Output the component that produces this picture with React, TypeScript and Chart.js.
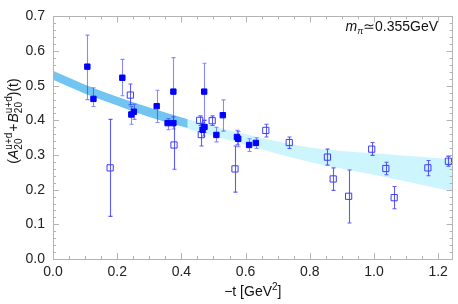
import React, { useEffect, useRef } from 'react';
import { Chart, registerables } from 'chart.js';
Chart.register(...registerables);

// ---- data ----
const X_MIN = 0;
const X_MAX = 1.245;
const Y_MIN = 0;
const Y_MAX = 0.7;

const filledX = [0.107, 0.126, 0.216, 0.244, 0.252, 0.323, 0.357, 0.375, 0.375, 0.466, 0.471, 0.472, 0.509, 0.529, 0.573, 0.577, 0.611, 0.632];
const filledY = [0.555, 0.462, 0.523, 0.417, 0.425, 0.441, 0.392, 0.483, 0.392, 0.373, 0.483, 0.381, 0.358, 0.415, 0.352, 0.347, 0.329, 0.335];
const filledLo = [0.460, 0.440, 0.471, 0.389, 0.403, 0.394, 0.373, 0.385, 0.375, 0.355, 0.400, 0.365, 0.338, 0.369, 0.330, 0.324, 0.310, 0.319];
const filledHi = [0.646, 0.494, 0.576, 0.440, 0.447, 0.487, 0.405, 0.581, 0.410, 0.395, 0.565, 0.400, 0.380, 0.459, 0.371, 0.368, 0.347, 0.350];

const openX = [0.178, 0.241, 0.377, 0.457, 0.462, 0.496, 0.567, 0.663, 0.736, 0.855, 0.873, 0.921, 0.993, 1.037, 1.063, 1.168, 1.232];
const openY = [0.263, 0.473, 0.329, 0.400, 0.359, 0.399, 0.260, 0.371, 0.336, 0.294, 0.231, 0.181, 0.317, 0.261, 0.177, 0.263, 0.282];
const openLo = [0.123, 0.445, 0.259, 0.385, 0.326, 0.385, 0.193, 0.352, 0.319, 0.271, 0.198, 0.104, 0.299, 0.243, 0.145, 0.240, 0.268];
const openHi = [0.403, 0.505, 0.399, 0.413, 0.390, 0.413, 0.326, 0.389, 0.352, 0.317, 0.263, 0.257, 0.336, 0.279, 0.209, 0.284, 0.296];

const darkBandX = [0, 0.1, 0.2, 0.3, 0.42];
const darkBandUpper = [0.543, 0.503, 0.468, 0.437, 0.403];
const darkBandLower = [0.517, 0.477, 0.443, 0.410, 0.378];

const lightBandX = [0.42, 0.6, 0.8, 1.0, 1.245];
const lightBandUpper = [0.403, 0.360, 0.322, 0.305, 0.288];
const lightBandLower = [0.375, 0.330, 0.280, 0.243, 0.195];

const xTickValues = [0, 0.2, 0.4, 0.6, 0.8, 1.0, 1.2];

const FONT = '"Liberation Sans", Arial, "DejaVu Sans", sans-serif';

const pts = (xs: number[], ys: number[]) => xs.map((x, i) => ({ x, y: ys[i] }));

const errorBarPlugin = {
  id: 'errorBars',
  beforeDatasetDraw(chart: any, args: any) {
    const ds = chart.data.datasets[args.index];
    if (!ds.errLo) return;
    const { ctx, chartArea, scales } = chart;
    const xs = scales.x, ys = scales.y;
    ctx.save();
    ctx.beginPath();
    ctx.rect(chartArea.left, chartArea.top, chartArea.right - chartArea.left, chartArea.bottom - chartArea.top);
    ctx.clip();
    ctx.strokeStyle = ds.errColor;
    ctx.lineWidth = 1.1;
    ds.data.forEach((p: any, i: number) => {
      const px = Math.round(xs.getPixelForValue(p.x)) + 0.5;
      const yl = ys.getPixelForValue(ds.errLo[i]);
      const yh = ys.getPixelForValue(ds.errHi[i]);
      ctx.beginPath();
      ctx.moveTo(px, yl);
      ctx.lineTo(px, yh);
      ctx.moveTo(px - 2, yl);
      ctx.lineTo(px + 2, yl);
      ctx.moveTo(px - 2, yh);
      ctx.lineTo(px + 2, yh);
      ctx.stroke();
    });
    ctx.restore();
  },
};

const framePlugin = {
  id: 'frame',
  afterDatasetsDraw(chart: any) {
    const { ctx, chartArea, scales } = chart;
    const { left, right, top, bottom } = chartArea;
    const xs = scales.x, ys = scales.y;
    ctx.save();
    ctx.strokeStyle = '#b4b4b4';
    ctx.lineWidth = 1;
    ctx.beginPath();
    // x ticks
    for (let k = 0; k <= 25; k++) {
      const v = k * 0.05;
      if (v > X_MAX + 1e-9) break;
      const major = k % 4 === 0;
      const len = major ? 6 : 3;
      const px = Math.round(xs.getPixelForValue(v)) + 0.5;
      ctx.moveTo(px, bottom);
      ctx.lineTo(px, bottom - len);
      ctx.moveTo(px, top);
      ctx.lineTo(px, top + len);
    }
    // y ticks
    for (let k = 0; k <= 35; k++) {
      const v = k * 0.02;
      const major = k % 5 === 0;
      const len = major ? 6 : 3;
      const py = Math.round(ys.getPixelForValue(v)) + 0.5;
      ctx.moveTo(left, py);
      ctx.lineTo(left + len, py);
      ctx.moveTo(right, py);
      ctx.lineTo(right - len, py);
    }
    ctx.stroke();
    ctx.strokeRect(Math.round(left) + 0.5, Math.round(top) + 0.5, Math.round(right - left) - 1, Math.round(bottom - top));
    ctx.restore();
  },
};

type Piece = { t?: string; font?: string; sup?: string; sub?: string; gap?: number };

const drawPieces = (ctx: CanvasRenderingContext2D, pieces: Piece[], x0: number, y0: number, small: string, supDy: number, subDy: number) => {
  let x = x0;
  for (const p of pieces) {
    if (p.gap) { x += p.gap; continue; }
    if (p.t !== undefined) {
      ctx.font = p.font!;
      ctx.fillText(p.t, x, y0);
      x += ctx.measureText(p.t).width;
    } else {
      ctx.font = small;
      let w = 0;
      if (p.sup) { ctx.fillText(p.sup, x, y0 + supDy); w = Math.max(w, ctx.measureText(p.sup).width); }
      if (p.sub) { ctx.fillText(p.sub, x, y0 + subDy); w = Math.max(w, ctx.measureText(p.sub).width); }
      x += w;
    }
  }
  return x - x0;
};

const measurePieces = (ctx: CanvasRenderingContext2D, pieces: Piece[], small: string) => {
  let x = 0;
  for (const p of pieces) {
    if (p.gap) { x += p.gap; continue; }
    if (p.t !== undefined) { ctx.font = p.font!; x += ctx.measureText(p.t).width; }
    else {
      ctx.font = small;
      x += Math.max(p.sup ? ctx.measureText(p.sup).width : 0, p.sub ? ctx.measureText(p.sub).width : 0);
    }
  }
  return x;
};

const textPlugin = {
  id: 'texts',
  afterDraw(chart: any) {
    const { ctx } = chart;
    const N = `14px ${FONT}`;
    const I = `italic 14px ${FONT}`;
    const S = `10px ${FONT}`;
    ctx.save();
    ctx.fillStyle = '#111';
    ctx.textBaseline = 'alphabetic';
    ctx.textAlign = 'left';

    // y axis title
    const yPieces: Piece[] = [
      { t: '(', font: N },
      { t: 'A', font: I },
      { sup: 'u+d', sub: '20' },
      { gap: 1 },
      { t: '+', font: N },
      { gap: 1 },
      { t: 'B', font: I },
      { sup: 'u+d', sub: '20' },
      { t: ')(t)', font: N },
    ];
    const wy = measurePieces(ctx, yPieces, S);
    ctx.save();
    ctx.translate(18, 121);
    ctx.rotate(-Math.PI / 2);
    drawPieces(ctx, yPieces, -wy / 2, 0, S, -6, 4);
    ctx.restore();

    // x axis title
    const xPieces: Piece[] = [
      { t: '\u2212t [GeV', font: N },
      { sup: '2' },
      { t: ']', font: N },
    ];
    const wx = measurePieces(ctx, xPieces, S);
    const ca = chart.chartArea;
    drawPieces(ctx, xPieces, (ca.left + ca.right) / 2 - wx / 2, 296, S, -6, 4);

    // annotation
    const aPieces: Piece[] = [
      { t: 'm', font: I },
      { sub: '\u03c0' },
      { t: '\u22430.355GeV', font: N },
    ];
    const wa = measurePieces(ctx, aPieces, `italic 9px ${FONT}`);
    ctx.font = `italic 9px ${FONT}`;
    // draw manually to use italic subscript
    let x = 438 - wa;
    ctx.font = I; ctx.fillText('m', x, 31); x += ctx.measureText('m').width;
    ctx.font = `italic 9px ${FONT}`; ctx.fillText('\u03c0', x, 34); x += ctx.measureText('\u03c0').width;
    ctx.font = N; ctx.fillText('\u22430.355GeV', x, 31);
    ctx.restore();
  },
};

export default function App() {
  const ref = useRef<HTMLCanvasElement | null>(null);
  useEffect(() => {
    if (!ref.current) return;
    const bandCommon = {
      type: 'line' as const,
      pointRadius: 0,
      borderWidth: 0,
      borderColor: 'rgba(0,0,0,0)',
      cubicInterpolationMode: 'monotone' as const,
      order: 10,
    };
    const chart = new Chart(ref.current, {
      type: 'scatter',
      data: {
        datasets: [
          { ...bandCommon, data: pts(darkBandX, darkBandUpper), fill: false },
          { ...bandCommon, data: pts(darkBandX, darkBandLower), fill: '-1', backgroundColor: '#72c5f1' },
          { ...bandCommon, data: pts(lightBandX, lightBandUpper), fill: false },
          { ...bandCommon, data: pts(lightBandX, lightBandLower), fill: '-1', backgroundColor: '#cdf5fe' },
          {
            type: 'scatter',
            data: pts(openX, openY),
            pointStyle: 'rect',
            pointRadius: 4.4,
            backgroundColor: 'rgba(0,0,0,0)',
            borderColor: '#3c3cff',
            borderWidth: 1,
            order: 2,
            errLo: openLo,
            errHi: openHi,
            errColor: 'rgba(50,50,255,0.8)',
          } as any,
          {
            type: 'scatter',
            data: pts(filledX, filledY),
            pointStyle: 'rect',
            pointRadius: 3.8,
            backgroundColor: '#0000ff',
            borderColor: '#0000ff',
            borderWidth: 1,
            order: 1,
            errLo: filledLo,
            errHi: filledHi,
            errColor: 'rgba(40,40,255,0.55)',
          } as any,
        ],
      },
      options: {
        responsive: false,
        animation: false,
        events: [],
        layout: { padding: { top: 8, right: 1, left: 0, bottom: 0 } },
        plugins: { legend: { display: false }, tooltip: { enabled: false } },
        scales: {
          x: {
            type: 'linear',
            min: X_MIN,
            max: X_MAX,
            grid: { display: false, drawTicks: false },
            border: { display: false },
            ticks: {
              padding: 5,
              color: '#222',
              font: { size: 14, family: FONT },
              maxRotation: 0,
              callback: (v: any) => Number(v).toFixed(1),
            },
            afterBuildTicks: (scale: any) => {
              scale.ticks = xTickValues.map((value) => ({ value }));
            },
            afterFit: (scale: any) => { scale.height = 45; },
          },
          y: {
            type: 'linear',
            min: Y_MIN,
            max: Y_MAX,
            grid: { display: false, drawTicks: false },
            border: { display: false },
            ticks: {
              stepSize: 0.1,
              padding: 8,
              color: '#222',
              font: { size: 14, family: FONT },
              callback: (v: any) => Number(v).toFixed(1),
            },
            afterFit: (scale: any) => { scale.width = 53; },
          },
        },
      } as any,
      plugins: [errorBarPlugin, framePlugin, textPlugin],
    });
    return () => chart.destroy();
  }, []);
  return (
    <div style={{ position: 'absolute', left: 0, top: 0, width: 458, height: 304, background: '#fff' }}>
      <canvas ref={ref} width={458} height={304} style={{ display: 'block' }} />
    </div>
  );
}
